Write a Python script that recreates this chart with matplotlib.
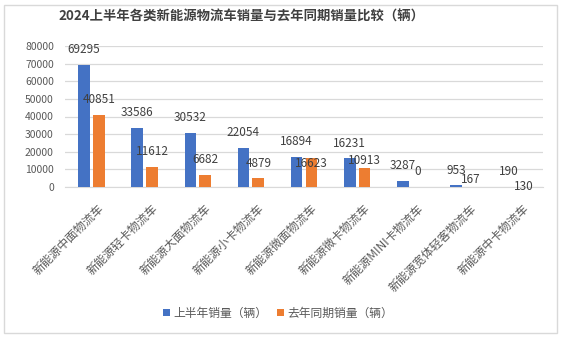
import matplotlib
matplotlib.use("Agg")
import matplotlib.pyplot as plt
import numpy as np
from matplotlib.patches import Rectangle

plt.rcParams["font.family"] = ["Noto Sans CJK SC", "DejaVu Sans"]

categories = [
    "新能源中面物流车",
    "新能源轻卡物流车",
    "新能源大面物流车",
    "新能源小卡物流车",
    "新能源微面物流车",
    "新能源微卡物流车",
    "新能源MINI卡物流车",
    "新能源宽体轻客物流车",
    "新能源中卡物流车",
]
sales_h1_2024 = [69295, 33586, 30532, 22054, 16894, 16231, 3287, 953, 190]
sales_h1_2023 = [40851, 11612, 6682, 4879, 16623, 10913, 0, 167, 130]
series_names = ["上半年销量（辆）", "去年同期销量（辆）"]
title = "2024上半年各类新能源物流车销量与去年同期销量比较（辆）"

BLUE = "#4472C4"
ORANGE = "#ED7D31"
GRID = "#D9D9D9"
TXT = "#595959"
LBL = "#404040"

# hand-placed label nudges (points above bar top) for the last-year series,
# mimicking the manually moved labels in the source chart
LABEL_RAISE = 11
ORANGE_RAISE = {4: -4.5, 5: 5.5, 7: 5.5, 8: 0}


def main() -> None:
    fig = plt.figure(figsize=(5.63, 3.38), dpi=100)
    ax = fig.add_axes([65 / 563, 1 - 187 / 338, 478 / 563, 141 / 338])

    x = np.arange(len(categories))
    w = 0.22
    off = 0.14
    b1 = ax.bar(x - off, sales_h1_2024, width=w, color=BLUE, label=series_names[0], zorder=3)
    b2 = ax.bar(x + off, sales_h1_2023, width=w, color=ORANGE, label=series_names[1], zorder=3)

    for k, bars in enumerate((b1, b2)):
        for i, rect in enumerate(bars):
            v = rect.get_height()
            dy = ORANGE_RAISE.get(i, LABEL_RAISE) if k == 1 else LABEL_RAISE
            ax.annotate(f"{int(v)}", (rect.get_x() + rect.get_width() / 2, v),
                        xytext=(0, dy), textcoords="offset points",
                        ha="center", va="center", fontsize=8.5, color=LBL, zorder=4)

    ax.set_xlim(-0.5, len(categories) - 0.5)
    ax.set_ylim(0, 80000)
    ax.set_yticks(np.arange(0, 80001, 10000))
    ax.yaxis.grid(True, color=GRID, linewidth=0.9, zorder=0)
    ax.tick_params(axis="y", length=0, labelsize=7.5, labelcolor=TXT, pad=8)
    ax.tick_params(axis="x", length=0)
    ax.set_xticks(x)
    ax.set_xticklabels([])
    for xi, name in zip(x, categories):
        ax.text(xi + 0.2, -11000, name, rotation=45, rotation_mode="anchor",
                ha="right", va="center", fontsize=8.5, color=TXT)
    for s in ("left", "right", "top"):
        ax.spines[s].set_visible(False)
    ax.spines["bottom"].set_color(GRID)

    fig.text(241 / 563, 1 - 17 / 338, title, ha="center", va="center",
             fontsize=9.6, fontweight="bold", color=LBL)

    fig.legend(loc="center", bbox_to_anchor=(278 / 563, 1 - 313 / 338), ncol=2,
               frameon=False, fontsize=8.5, handlelength=0.6, handleheight=0.6,
               handletextpad=0.3, columnspacing=0.8, labelcolor=TXT)

    fig.patches.append(Rectangle((4 / 563, 5 / 338), 553 / 563, 328 / 338,
                                 transform=fig.transFigure, fill=False,
                                 edgecolor=GRID, linewidth=1))

    fig.savefig("out.png", dpi=100)


if __name__ == "__main__":
    main()
